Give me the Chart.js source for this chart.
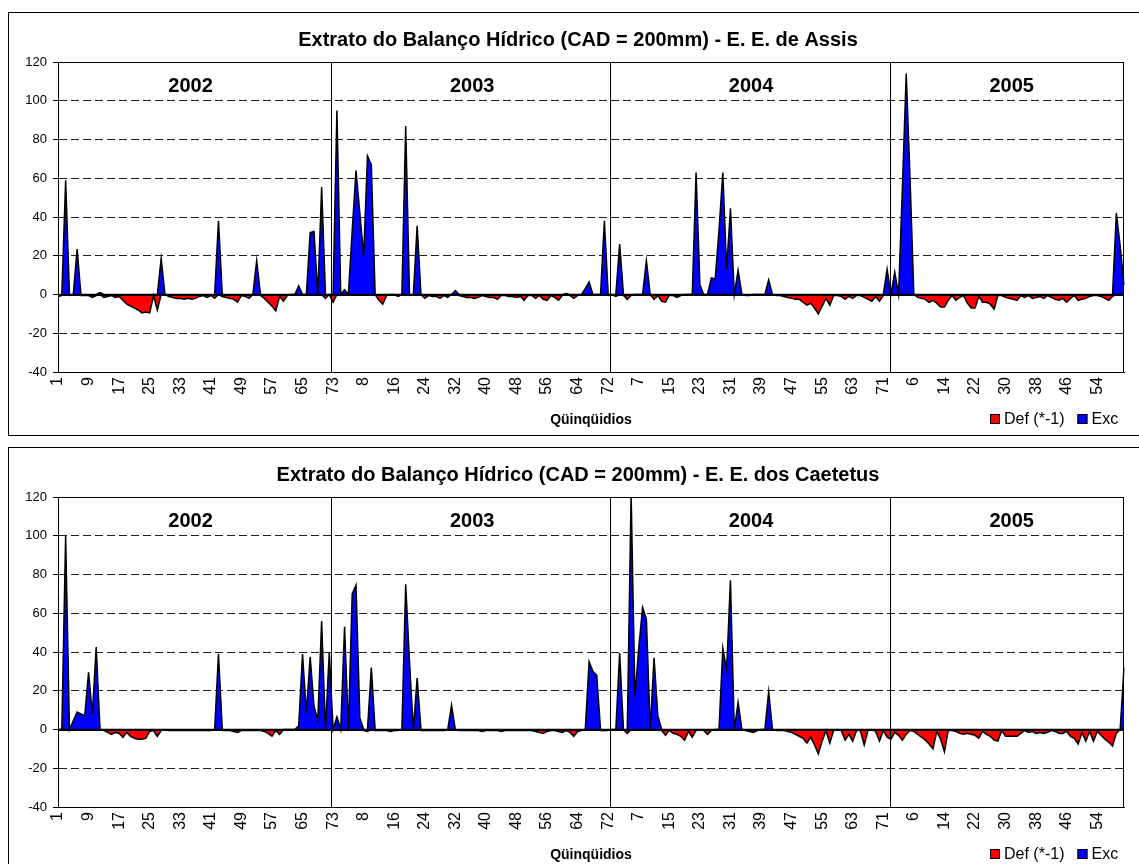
<!DOCTYPE html>
<html>
<head>
<meta charset="utf-8">
<title>Extrato do Balanço Hídrico</title>
<script src="https://cdn.jsdelivr.net/npm/chart.js@4.4.1/dist/chart.umd.min.js"></script>
<style>
  html, body { margin: 0; padding: 0; background: #fff; width: 1139px; height: 864px; overflow: hidden; }
  .panel { position: absolute; left: 8px; width: 1138px; height: 422px; border: 1px solid #000; background: #fff; }
  #p1 { top: 12px; }
  #p2 { top: 447px; }
  canvas { display: block; }
</style>
</head>
<body>
<div class="panel" id="p1"><canvas id="c1" width="1130" height="422"></canvas></div>
<div class="panel" id="p2"><canvas id="c2" width="1130" height="422"></canvas></div>
<script>
// Quinquídios per year (73 five-day periods a year; 2005 runs to the 61st)
const years = ['2002', '2003', '2004', '2005'];
const yearLengths = [73, 73, 73, 61];
const quinquidios = yearLengths.flatMap(n => Array.from({ length: n }, (_, k) => String(k + 1)));

// ---- E. E. de Assis ----
const assisExc2002 = [
  0,0,59,0,0,23.5,0,0,0,0,
  0,1,0,0,0,0,0,0,0,0,
  0,0,0,0,0,0,0,18.5,0,0,
  0,0,0,0,0,0,0,0,0,0,
  0,0,38,0,0,0,0,0,0,0,
  0,0,17.5,0,0,0,0,0,0,0,
  0,0,0,4.5,0,0,32,32.5,0,55.5,
  0,0,0];
const assisDef2002 = [
  -1,-0.5,0,-0.5,0,0,-0.5,-0.5,-0.5,-1.5,
  -0.5,0,-1.5,-1,-0.5,-1.5,-1,-3,-5,-6,
  -7,-8,-9.5,-9,-9.5,-0.5,-8,0,0,-1,
  -1.5,-2,-2,-2.5,-2,-2.5,-2,-1,-0.5,-1.5,
  -0.5,-2,0,-1,-1.5,-2,-2.5,-4,-0.5,-1,
  -2,0,0,-0.5,-2,-4,-6,-8.5,-1,-3.5,
  -0.5,0,0,0,0,0,0,0,0,0,
  -2,0,-4];
const assisExc2003 = [
  95,0,2.5,0,33,64,42,20,71.5,67,
  0,0,0,0,0,0,0,0,87,0,
  0,35.5,0,0,0,0,0,0,0,0,
  0,2,0,0,0,0,0,0,0,0,
  0,0,0,0,0,0,0,0,0,0,
  0,0,0,0,0,0,0,0,0,0,
  0.5,0,0,0,0,3,6.5,0,0,0,
  38,0,0];
const assisDef2003 = [
  0,0,0,0,0,0,0,0,0,0,
  0,-3,-5,-0.5,0,0,-1,0,0,-0.5,
  0,0,0,-2,-0.5,-1,-1,-2,-0.5,-1.5,
  0,0,-0.5,-1,-1.5,-1.5,-2,-1.5,-0.5,-1,
  -1.5,-1.5,-2.5,-0.5,-0.5,-1,-1,-1.5,-1,-3,
  -0.5,-0.5,-2,-0.5,-2.5,-3,-0.5,-1.5,-3,-0.5,
  0,-0.5,-2,-0.5,0,0,0,0,0,0,
  0,-0.5,0];
const assisExc2004 = [
  0,26,0,0,0,0,0,0,17.5,0,
  0,0,0,0,0,0,0,0,0,0,
  0,63,5,0,0,8.5,8,33,63,13,
  44.5,0,12.5,0,0,0,0,0,0,0,
  7.5,0,0,0,0,0,0,0,0,0,
  0,0,0,0,0,0,0,0,0,0,
  0,0,0,0,0,0,0,0,0,0,
  0,13,0];
const assisDef2004 = [
  -1,0,-0.5,-2.5,-0.5,0,0,0,0,0,
  -2.5,-0.5,-3.5,-4,-0.5,-0.5,-1.5,-0.5,0,0,
  0,0,0,0,0,0,0,0,0,0,
  0,0,0,0,-0.5,-0.5,0,0,0,0,
  0,0,-0.5,-0.5,-1,-1.5,-2,-2.5,-2.5,-4,
  -5.5,-4.5,-7,-10,-6,-2,-5.5,-0.5,-0.5,-1,
  -2.5,-1,-2,-0.5,-0.5,-1.5,-2.5,-3.5,-1,-3.5,
  -0.5,0,0];
const assisExc2005 = [
  11.5,0,55,114,60,0,0,0,0,0,
  0,0,0,0,0,0,0,0,0,0,
  0,0,0,0,0,0,0,0,0,0,
  0,0,0,0,0,0,0,0,0,0,
  0,0,0,0,0,0,0,0,0,0,
  0,0,0,0,0,0,0,0,42,25,
  5];
const assisDef2005 = [
  0,0,0,0,0,0,-1.5,-2,-2.5,-4,
  -3,-4.5,-6.5,-6.5,-3,-0.5,-3,-1.5,-0.5,-4.5,
  -7,-7,-1,-4,-4,-5,-7.5,-0.5,-0.5,-1.5,
  -2,-2.5,-3,-0.5,-1.5,-0.5,-2,-1.5,-1,-2,
  -0.5,-1.5,-2.5,-3,-2,-4,-2,-0.5,-3,-2.5,
  -2,-1,-0.5,-0.5,-1,-2,-3,-1,0,0,
  0];

// ---- E. E. dos Caetetus ----
const caetetusExc2002 = [
  0,0,100,0,4.5,9,8,7,29.5,8,
  42.5,0,0,0,0,0,0,0,0,0,
  0,0,0,0,0,0,0,0,0,0,
  0,0,0,0,0,0,0,0,0,0,
  0,0,39,0,0,0,0,0,0,0,
  0,0,0,0,0,0,0,0,0,0,
  0,0,0,2,39,8.5,37.5,12,5,56,
  0,40,0];
const caetetusDef2002 = [
  0,0,0,0,0,0,0,0,0,0,
  0,0,-0.5,-1.5,-2.5,-1.5,-2,-4,-1.5,-3.5,
  -4.5,-5,-5,-4.5,-1,-0.5,-3.5,-0.5,0,-0.5,
  -0.5,-0.5,-0.5,-0.5,-0.5,-0.5,-0.5,-0.5,-0.5,-0.5,
  -0.5,0,0,-0.5,-0.5,-0.5,-1,-1.5,-0.5,-0.5,
  -0.5,-0.5,-0.5,-0.5,-1,-2,-3.5,-0.5,-2.5,0,
  0,0,0,0,0,0,0,0,0,0,
  0,0,-0.5];
const caetetusExc2003 = [
  6.5,0,53,0,70,74.5,6,0,0,32,
  0,0,0,0,0,0,0,0,75,35,
  0,26.5,0,0,0,0,0,0,0,0,
  12.5,0,0,0,0,0,0,0,0,0,
  0,0,0,0,0,0,0,0,0,0,
  0,0,0,0,0,0,0,0,0,0,
  0,0,0,0,0,0,35,30,28,0,
  0,0,0];
const caetetusDef2003 = [
  0,-0.5,0,-0.5,0,0,0,-0.5,-1,0,
  -0.5,-0.5,-0.5,-0.5,-1,-0.5,-0.5,0,0,0,
  0,0,-0.5,-0.5,-0.5,-0.5,-0.5,-0.5,-0.5,0,
  0,0,-0.5,-0.5,-0.5,-0.5,-0.5,-0.5,-1,-0.5,
  -0.5,-0.5,-0.5,-1,-0.5,-0.5,-0.5,-0.5,-0.5,-0.5,
  -0.5,-0.5,-1,-1.5,-2,-1,-0.5,-0.5,-1,-1.5,
  -0.5,-1.5,-3.5,-1,-0.5,0,0,0,0,-0.5,
  -0.5,-0.5,0];
const caetetusExc2004 = [
  0,39.5,0,0,122,17,42,63,57,0,
  37,7,0,0,0,0,0,0,0,0,
  0,0,0,0,0,0,0,0,42,31,
  77,0,14,0,0,0,0,0,0,0,
  19.5,0,0,0,0,0,0,0,0,0,
  0,0,0,0,0,0,0,0,0,0,
  0,0,0,0,0,0,0,0,0,0,
  0,0,0];
const caetetusDef2004 = [
  0,0,0,-2,0,0,0,0,0,0,
  0,0,-0.5,-3,-0.5,-2,-2.5,-3.5,-5.5,-1,
  -4,-0.5,0,-0.5,-2.5,-0.5,0,0,0,0,
  0,0,0,0,-0.5,-1,-1.5,-0.5,0,0,
  0,0,-0.5,-0.5,-0.5,-1,-1.5,-2.5,-3.5,-4.5,
  -7,-4,-8,-12.5,-6,-0.5,-7,-0.5,0,-0.5,
  -5.5,-2.5,-6,-0.5,-0.5,-8,-0.5,0,-1,-6,
  -0.5,-4,-5];
const caetetusExc2005 = [
  0,0,0,0,0,0,0,0,0,0,
  0,0,0,0,0,0,0,0,0,0,
  0,0,0,0,0,0,0,0,0,0,
  0,0,0,0,0,0,0,0,0,0,
  0,0,0,0,0,0,0,0,0,0,
  0,0,0,0,0,0,0,0,0,0,
  32];
const caetetusDef2005 = [
  -1.5,-3,-5.5,-2.5,-0.5,-1,-2.5,-4,-5.5,-7.5,
  -10,-1,-5,-11.5,-0.5,-0.5,-1,-2,-2.5,-2,
  -2.5,-3,-4.5,-1,-2.5,-3.5,-5.5,-6,-0.5,-3.5,
  -3.5,-3.5,-3.5,-2,-0.5,-1.5,-1,-2,-1.5,-2,
  -1.5,-0.5,-1,-2,-2,-1,-3.5,-4.5,-7.5,-1.5,
  -6,-1,-6,-1,-3,-5,-6.5,-8.5,-2,0,
  0];

const assisDef = [].concat(assisDef2002, assisDef2003, assisDef2004, assisDef2005);
const assisExc = [].concat(assisExc2002, assisExc2003, assisExc2004, assisExc2005);
const caetetusDef = [].concat(caetetusDef2002, caetetusDef2003, caetetusDef2004, caetetusDef2005);
const caetetusExc = [].concat(caetetusExc2002, caetetusExc2003, caetetusExc2004, caetetusExc2005);

const FONT = 'Arial, "Liberation Sans", Helvetica, sans-serif';
Chart.defaults.color = '#000';
Chart.defaults.font.family = FONT;

// Frame, year separators, zero line, year captions, title and legend
const decor = {
  id: 'decor',
  afterDatasetsDraw(chart, args, opts) {
    const { ctx, chartArea: a, scales: { x, y } } = chart;
    ctx.save();
    ctx.strokeStyle = '#000';
    ctx.lineWidth = 1;
    ctx.strokeRect(a.left + 0.5, a.top + 0.5, a.right - a.left - 1, a.bottom - a.top);
    opts.dividers.forEach(v => {
      const px = Math.round(x.getPixelForValue(v)) + 0.5;
      ctx.beginPath();
      ctx.moveTo(px, a.top);
      ctx.lineTo(px, a.bottom);
      ctx.stroke();
    });
    const y0 = Math.round(y.getPixelForValue(0));
    ctx.lineWidth = 2;
    ctx.beginPath();
    ctx.moveTo(a.left, y0);
    ctx.lineTo(a.right, y0);
    ctx.stroke();
    ctx.fillStyle = '#000';
    ctx.font = 'bold 20px ' + FONT;
    ctx.textAlign = 'center';
    ctx.textBaseline = 'middle';
    years.forEach((t, i) => ctx.fillText(t, x.getPixelForValue(opts.yearAt[i]), a.top + 24));
    ctx.restore();
  },
  afterDraw(chart, args, opts) {
    const { ctx } = chart;
    ctx.save();
    ctx.fillStyle = '#000';
    ctx.font = 'bold 20px ' + FONT;
    ctx.textAlign = 'center';
    ctx.textBaseline = 'middle';
    ctx.fillText(opts.title, opts.titleX, 27);
    ctx.font = '16px ' + FONT;
    ctx.textAlign = 'left';
    let lx = opts.legendX;
    const ly = opts.legendY;
    chart.data.datasets.forEach(ds => {
      ctx.fillStyle = ds.backgroundColor;
      ctx.fillRect(lx, ly - 5, 10, 10);
      ctx.strokeStyle = '#000';
      ctx.lineWidth = 1;
      ctx.strokeRect(lx + 0.5, ly - 4.5, 9, 9);
      ctx.fillStyle = '#000';
      ctx.fillText(ds.label, lx + 14, ly + 1);
      lx += 14 + ctx.measureText(ds.label).width + 13;
    });
    ctx.restore();
  }
};

function buildChart(canvasId, title, defData, excData) {
  const area = (label, data, color) => ({
    label, data,
    backgroundColor: color,
    borderColor: '#000',
    borderWidth: 1.5,
    fill: 'origin',
    pointRadius: 0,
    pointHoverRadius: 0,
    tension: 0
  });
  return new Chart(document.getElementById(canvasId), {
    type: 'line',
    data: {
      labels: quinquidios,
      datasets: [area('Def (*-1)', defData, '#FF0000'), area('Exc', excData, '#0000FF')]
    },
    options: {
      responsive: false,
      animation: false,
      events: [],
      layout: { padding: { top: 49, left: 0, right: 15, bottom: 0 } },
      plugins: {
        legend: { display: false },
        tooltip: { enabled: false },
        title: { display: false },
        decor: {
          title,
          titleX: 569,
          legendX: 981,
          legendY: 406,
          dividers: [71.4, 144.6, 217.7],
          yearAt: [34.7, 108.4, 181.4, 249.6]
        }
      },
      scales: {
        x: {
          type: 'category',
          offset: false,
          grid: { display: false, drawTicks: false },
          border: { display: true, color: '#000', width: 1 },
          ticks: {
            autoSkip: false,
            maxRotation: 90,
            minRotation: 90,
            padding: 5,
            font: { family: FONT, size: 16 },
            color: '#000',
            callback: (v, i) => (i % 8 === 0 ? quinquidios[i] : null)
          },
          title: {
            display: true,
            text: 'Qüinqüidios',
            font: { family: FONT, size: 14, weight: 'bold' },
            color: '#000',
            padding: { top: 0, bottom: 6 }
          },
          afterFit: s => { s.height = 63; }
        },
        y: {
          min: -40,
          max: 120,
          ticks: { stepSize: 20, padding: 6, font: { family: FONT, size: 13 }, color: '#000' },
          grid: { color: '#222', lineWidth: 1, tickLength: 5, tickColor: '#000', tickBorderDash: [] },
          border: { display: true, color: '#000', width: 1, dash: [8, 4] },
          afterFit: s => { s.width = 49; }
        }
      }
    },
    plugins: [decor]
  });
}

buildChart('c1', 'Extrato do Balanço Hídrico (CAD = 200mm) - E. E. de Assis', assisDef, assisExc);
buildChart('c2', 'Extrato do Balanço Hídrico (CAD = 200mm) - E. E. dos Caetetus', caetetusDef, caetetusExc);
</script>
</body>
</html>
